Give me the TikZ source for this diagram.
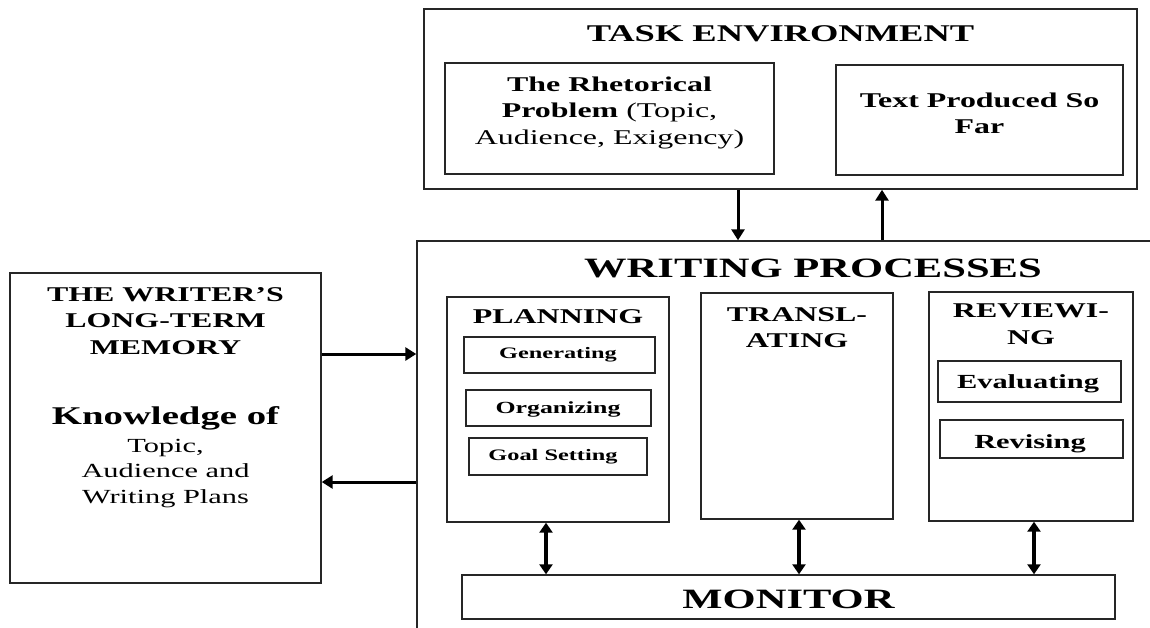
\documentclass[tikz,border=0pt]{standalone}
\usepackage{fontspec}
\setmainfont{Liberation Serif}[FakeStretch=1.52]
\usetikzlibrary{arrows.meta}
\tikzset{
  box/.style={draw=black!85, line width=1.4pt, inner sep=0pt, rectangle},
  txt/.style={anchor=base, inner sep=0pt, align=center, text=black},
  arr/.style={line width=3pt, -{Triangle[width=13pt,length=11pt]}},
  darr/.style={line width=3.5pt, {Triangle[width=13pt,length=10pt]}-{Triangle[width=13pt,length=10pt]}},
}
\newcommand{\fs}[2]{\fontsize{#1}{#2}\selectfont}
\begin{document}
\begin{tikzpicture}[x=1pt,y=-1pt]
\clip (0,0) rectangle (1150,627);
\fill[white] (0,0) rectangle (1150,627);
% boxes
\node[box, minimum width=713, minimum height=180] (task) at (780.5,99) {};
\node[box, minimum width=329, minimum height=111] (rhet) at (609.5,118.5) {};
\node[box, minimum width=287, minimum height=110] (sofar) at (979.5,120) {};
\node[box, minimum width=743, minimum height=399] (wp) at (788.5,440.5) {};
\node[box, minimum width=311, minimum height=310] (mem) at (165.5,428) {};
\node[box, minimum width=222, minimum height=225] (plan) at (558,409.5) {};
\node[box, minimum width=191, minimum height=36] (gen) at (559.5,355) {};
\node[box, minimum width=185, minimum height=36] (org) at (558.5,408) {};
\node[box, minimum width=178, minimum height=37] (goal) at (558,456.5) {};
\node[box, minimum width=192, minimum height=226] (trans) at (797,406) {};
\node[box, minimum width=204, minimum height=229] (rev) at (1031,406.5) {};
\node[box, minimum width=183, minimum height=41] (eval) at (1029.5,381.5) {};
\node[box, minimum width=183, minimum height=38] (revis) at (1031.5,439) {};
\node[box, minimum width=653, minimum height=44] (mon) at (788.5,597) {};
% texts (base = baseline of the last line)
\node[txt, font=\fs{24}{28}\bfseries] (tasktxt) at (780.5,41) {TASK ENVIRONMENT};
\node[txt, font=\fs{21}{26.5}] (rhettxt) at (609.5,144) {\textbf{The Rhetorical}\\\textbf{Problem} (Topic,\\Audience, Exigency)};
\node[txt, font=\fs{21}{26}\bfseries] (sofartxt) at (979.5,133) {Text Produced So\\Far};
\node[txt, font=\fs{28}{32}\bfseries] (wptxt) at (813,277) {WRITING PROCESSES};
\node[txt, font=\fs{21}{26.5}\bfseries] (memtxt) at (165.5,354) {THE WRITER’S\\LONG-TERM\\MEMORY};
\node[txt, font=\fs{25.5}{30}\bfseries] (knowtxt) at (165.5,424) {Knowledge of};
\node[txt, font=\fs{20}{25.5}] (topictxt) at (165.5,503) {Topic,\\Audience and\\Writing Plans};
\node[txt, font=\fs{21}{26}\bfseries] (plantxt) at (558,323) {PLANNING};
\node[txt, font=\fs{16}{20}\bfseries] (gentxt) at (558,358) {Generating};
\node[txt, font=\fs{17}{20}\bfseries] (orgtxt) at (558,413) {Organizing};
\node[txt, font=\fs{16}{20}\bfseries] (goaltxt) at (553,460) {Goal Setting};
\node[txt, font=\fs{21}{26}\bfseries] (transtxt) at (797,347) {TRANSL-\\ATING};
\node[txt, font=\fs{21}{27}\bfseries] (revtxt) at (1031,344) {REVIEWI-\\NG};
\node[txt, font=\fs{20}{24}\bfseries] (evaltxt) at (1028,388) {Evaluating};
\node[txt, font=\fs{20}{24}\bfseries] (revistxt) at (1030,448) {Revising};
\node[txt, font=\fs{28}{32}\bfseries] (montxt) at (788.5,608) {MONITOR};
% connector positions
\coordinate (xdown) at (738,0);
\coordinate (xup) at (882,0);
\coordinate (yin) at (0,354);
\coordinate (yout) at (0,482);
\coordinate (xp) at (546,0);
\coordinate (xt) at (799,0);
\coordinate (xr) at (1034,0);
% connectors
\draw[arr] (task.south -| xdown) -- (wp.north -| xdown);
\draw[arr] (wp.north -| xup) -- (task.south -| xup);
\draw[arr] (mem.east |- yin) -- (wp.west |- yin);
\draw[arr] (wp.west |- yout) -- (mem.east |- yout);
\draw[darr] (plan.south -| xp) -- (mon.north -| xp);
\draw[darr] (trans.south -| xt) -- (mon.north -| xt);
\draw[darr] (rev.south -| xr) -- (mon.north -| xr);
\end{tikzpicture}
\end{document}
